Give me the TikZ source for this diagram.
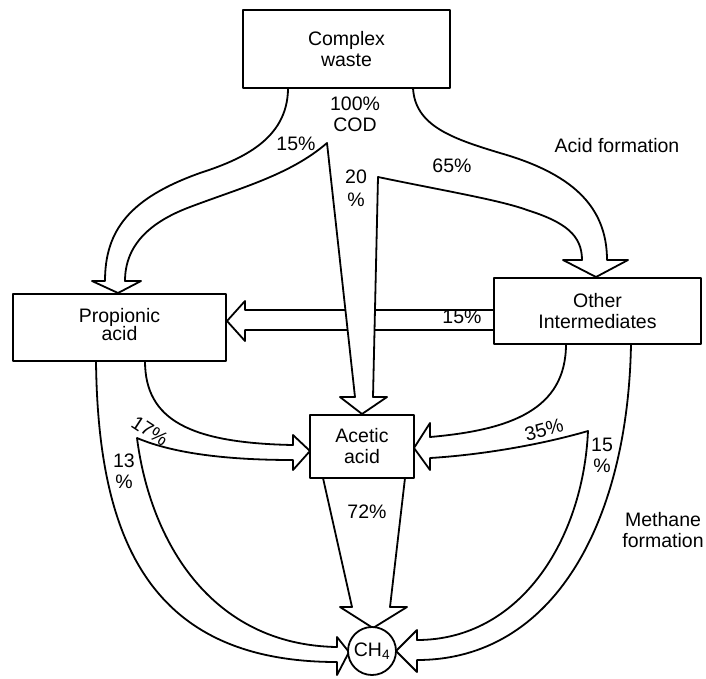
\documentclass[tikz,border=0pt]{standalone}
\usepackage{fontspec}
\setmainfont{Liberation Sans}
\newcommand\lblfont{\fontsize{19.5}{21}\selectfont}
\begin{document}
\begin{tikzpicture}[x=1pt,y=-1pt,
  line width=1.8pt, line join=round,
  box/.style={draw, fill=white, inner sep=0pt, align=center, font=\lblfont},
  lbl/.style={inner sep=0pt, align=center, font=\lblfont},
  band/.style={draw, fill=white}]
\useasboundingbox (0,0) rectangle (706,678);
% horizontal 15% arrow (Other -> Propionic)
\draw[band] (494,310) -- (245,310) -- (245,301) -- (227,321) -- (245,341) -- (245,330) -- (494,330);
% band out of complex waste
\draw[band] (288,88) .. controls (288,140) and (240,160) .. (200,173)
  .. controls (130,198) and (105,230) .. (105,281)
  -- (92,281) -- (118,293) -- (141,281) -- (125,281)
  .. controls (125,245) and (150,222) .. (190,207)
  .. controls (240,188) and (290,175) .. (327,143)
  -- (355,397) -- (340,397) -- (362,414) -- (387,397) -- (373,397)
  -- (378,177)
  .. controls (440,190) and (500,200) .. (527,210)
  .. controls (565,222) and (582,235) .. (582,260)
  -- (563,260) -- (596,277) -- (628,260) -- (607,260)
  .. controls (607,205) and (570,173) .. (500,153)
  .. controls (450,138) and (415,125) .. (413,88);
% band out of propionic acid
\draw[band] (96,361) .. controls (98,540) and (150,662) .. (337,662)
  -- (337,675) -- (349,652) -- (337,637) -- (337,647)
  .. controls (210,645) and (150,540) .. (137,438)
  .. controls (170,452) and (220,460) .. (293,460)
  -- (293,470) -- (310,451) -- (293,435) -- (293,445)
  .. controls (190,443) and (145,420) .. (145,361);
% band out of other intermediates
\draw[band] (566,344) .. controls (566,410) and (510,430) .. (430,437)
  -- (430,423) -- (414,448) -- (430,470) -- (430,458)
  .. controls (480,455) and (540,445) .. (588,431)
  .. controls (583,540) and (520,640) .. (417,640)
  -- (417,630) -- (396,651) -- (417,672) -- (417,660)
  .. controls (555,660) and (628,520) .. (631,344);
% 72% arrow
\draw[band] (323,478) -- (352,607) -- (340,607) -- (373,628) -- (407,607) -- (390,607) -- (405,478);
% boxes
\node[box, minimum width=207pt, minimum height=78pt] (cw) at (346.5,49) {Complex\\waste};
\node[box, minimum width=213pt, minimum height=67pt] (pa) at (119.5,327.5) {\raisebox{-3pt}{\begin{tabular}{@{}c@{}}Propionic\\[-3pt]acid\end{tabular}}};
\node[box, minimum width=207pt, minimum height=66pt] (oi) at (597.5,311) {Other\\Intermediates};
\node[box, minimum width=104pt, minimum height=63pt] (aa) at (362,446.5) {Acetic\\acid};
\node[box, circle, minimum size=48pt] (ch) at (372,651) {CH\textsubscript{4}};
% labels
\node[lbl] (l100) at (355,114) {100\%\\COD};
\node[lbl] (l15a) at (296,144) {15\%};
\node[lbl] (l20) at (356,188) {20\\[2pt]\%};
\node[lbl] (l65) at (452,166) {65\%};
\node[lbl] (lacid) at (617,146) {Acid formation};
\node[lbl] (l15b) at (462,317) {15\%};
\node[lbl, rotate=-33] (l17) at (150,431) {17\%};
\node[lbl] (l13) at (124,471) {13\\\%};
\node[lbl, rotate=15] (l35) at (544,430) {35\%};
\node[lbl] (l15c) at (602,455) {15\\\%};
\node[lbl] (l72) at (367,512) {72\%};
\node[lbl] (lmeth) at (663,530) {Methane\\formation};
\end{tikzpicture}
\end{document}
